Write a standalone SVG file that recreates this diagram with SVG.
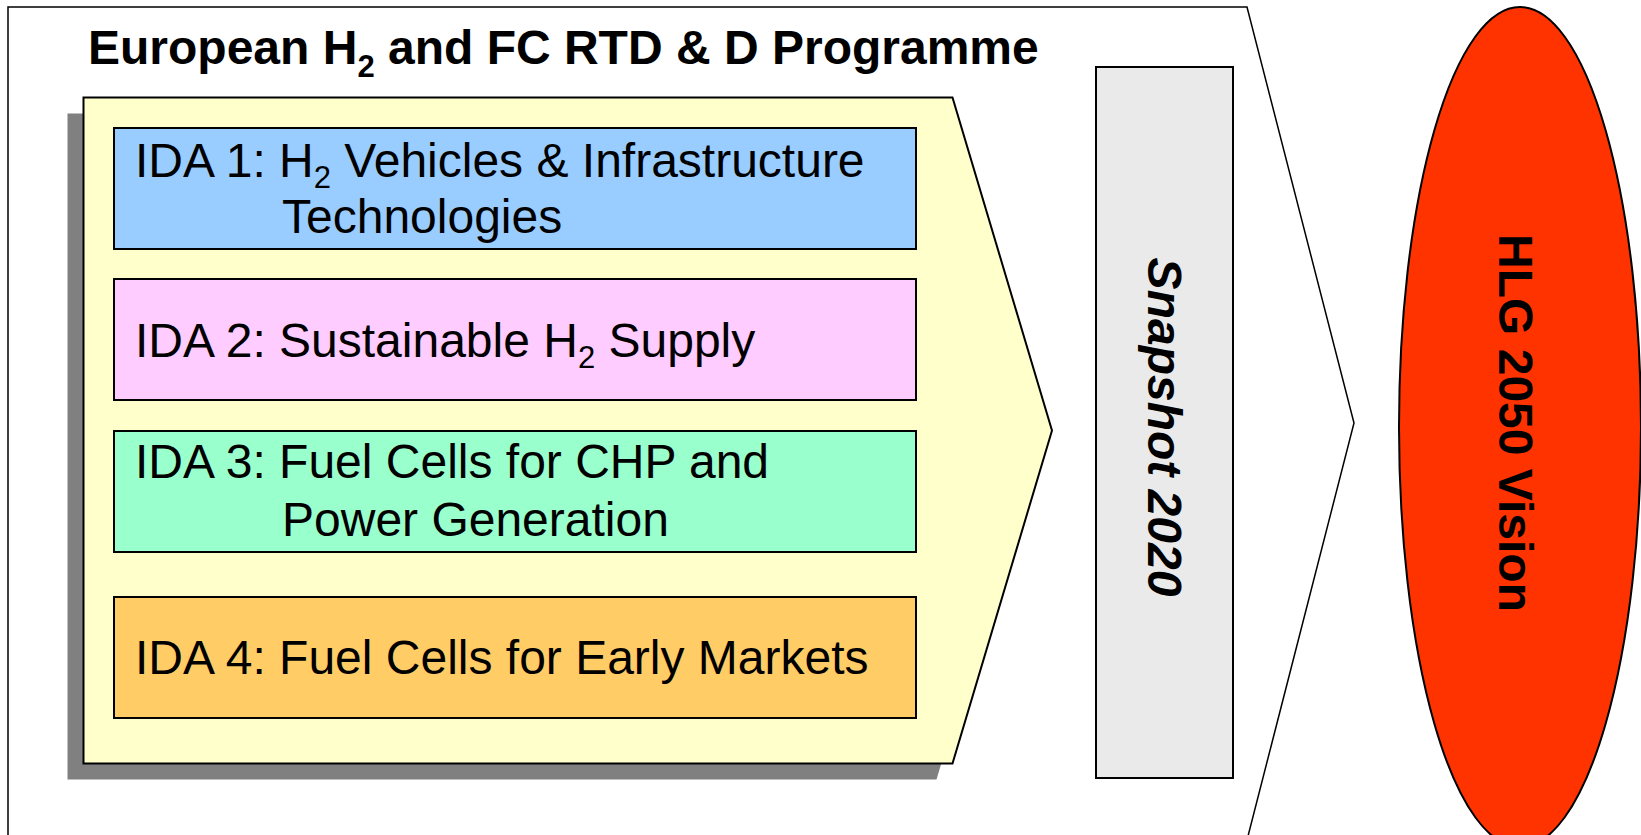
<svg xmlns="http://www.w3.org/2000/svg" width="1641" height="835" viewBox="0 0 1641 835">
  <style>
    text { font-family: "Liberation Sans", Arial, sans-serif; fill: #000; }
    .title { font-size: 48px; font-weight: bold; }
    .ida { font-size: 48px; }
    .sub { font-size: 31px; }
    .box { stroke: #000; stroke-width: 2; }
    .vert { font-size: 48px; font-weight: bold; text-anchor: middle; }
  </style>

  <g id="programme-frame">
    <polygon points="8,7 1247,7 1354,423 1247,840 8,840" fill="#FFFFFF" stroke="#000" stroke-width="1.5"/>
    <text class="title" x="88" y="64">European H<tspan class="sub" dy="13">2</tspan><tspan dy="-13"> and FC RTD &amp; D Programme</tspan></text>
  </g>

  <g id="ida-container">
    <polygon points="67.5,113.5 936.5,113.5 1036,446.5 936.5,779.5 67.5,779.5" fill="#808080"/>
    <polygon points="83.5,97.5 952.5,97.5 1052,430.5 952.5,763.5 83.5,763.5" fill="#FFFFCC" stroke="#000" stroke-width="2"/>
  </g>

  <g id="ida1">
    <rect class="box" x="114" y="128" width="802" height="121" fill="#99CCFF"/>
    <text class="ida" x="135" y="177">IDA 1: H<tspan class="sub" dy="11">2</tspan><tspan dy="-11"> Vehicles &amp; Infrastructure</tspan></text>
    <text class="ida" x="282" y="233">Technologies</text>
  </g>

  <g id="ida2">
    <rect class="box" x="114" y="279" width="802" height="121" fill="#FFCCFF"/>
    <text class="ida" x="135" y="357">IDA 2: Sustainable H<tspan class="sub" dy="11">2</tspan><tspan dy="-11"> Supply</tspan></text>
  </g>

  <g id="ida3">
    <rect class="box" x="114" y="431" width="802" height="121" fill="#99FFCC"/>
    <text class="ida" x="135" y="478">IDA 3: Fuel Cells for CHP and</text>
    <text class="ida" x="282" y="536">Power Generation</text>
  </g>

  <g id="ida4">
    <rect class="box" x="114" y="597" width="802" height="121" fill="#FFCC66"/>
    <text class="ida" x="135" y="674">IDA 4: Fuel Cells for Early Markets</text>
  </g>

  <g id="snapshot-2020">
    <rect class="box" x="1096" y="67" width="137" height="711" fill="#EAEAEA"/>
    <text class="vert" font-style="italic" transform="translate(1148,427) rotate(90)">Snapshot 2020</text>
  </g>

  <g id="hlg-2050-vision">
    <ellipse cx="1520" cy="427" rx="121" ry="420" fill="#FF3300" stroke="#000" stroke-width="2"/>
    <text class="vert" transform="translate(1499,423) rotate(90)">HLG 2050 Vision</text>
  </g>

  <g id="connectors"/>
</svg>
